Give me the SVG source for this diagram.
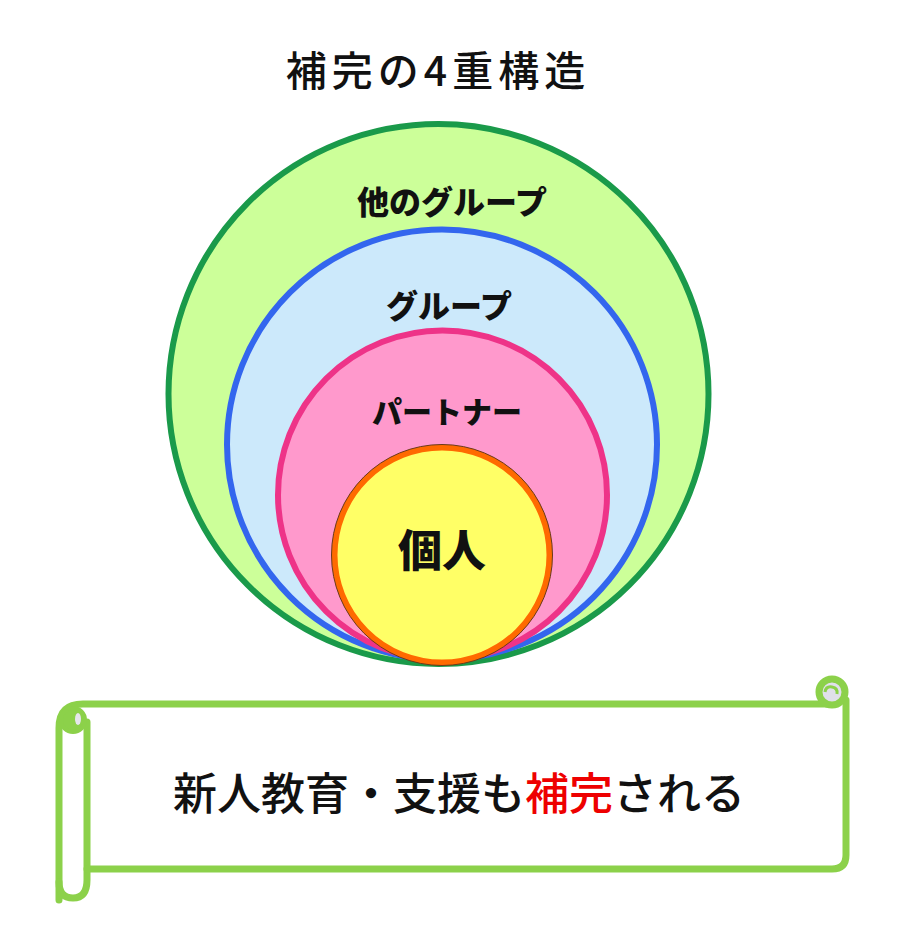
<svg xmlns="http://www.w3.org/2000/svg" width="900" height="927" viewBox="0 0 900 927">
<style>
.title{font-family:"Noto Sans CJK JP","Noto Sans",sans-serif;font-weight:500;fill:#111;text-anchor:middle}
.lbl{font-family:"Noto Sans CJK JP","Noto Sans",sans-serif;font-weight:900;fill:#111;text-anchor:middle}
.scroll{fill:none;stroke:#8cd14a;stroke-width:7;stroke-linecap:round;stroke-linejoin:round}
</style>
<rect width="900" height="927" fill="#ffffff"/>
<text class="title" x="438" y="86" font-size="41" letter-spacing="5">補完の4重構造</text>
<g id="group-other">
<circle cx="438.5" cy="394" r="270" fill="#ccff99" stroke="#1a9a4a" stroke-width="6"/>
<text class="lbl" x="452" y="214" font-size="32">他のグループ</text>
</g>
<g id="group">
<circle cx="442" cy="444.5" r="215" fill="#cce9fb" stroke="#3366ee" stroke-width="6"/>
<text class="lbl" x="449" y="318" font-size="32">グループ</text>
</g>
<g id="partner">
<circle cx="442.5" cy="495" r="164.5" fill="#ff99cc" stroke="#ee3388" stroke-width="6"/>
<text class="lbl" x="447" y="423" font-size="30">パートナー</text>
</g>
<g id="individual">
<circle cx="442" cy="555" r="107.5" fill="#ffff66" stroke="#ff6a00" stroke-width="6"/>
<circle cx="442" cy="555" r="110.5" fill="none" stroke="#6a3a1a" stroke-width="1"/>
<text class="lbl" x="442" y="567" font-size="44">個人</text>
</g>
<g id="scroll">
<path class="scroll" d="M59,900 L59,728 Q59,704 83,704 L834,704"/>
<path class="scroll" d="M87,722 L87,880 Q87,898 73,898 Q59,898 59,882"/>
<circle cx="73" cy="720" r="12" fill="#8cd14a" stroke="#8cd14a" stroke-width="4"/>
<ellipse cx="78" cy="719" rx="3" ry="6" fill="#e6e6ec"/>
<path class="scroll" d="M87,869 L832,869 Q846,869 846,855 L846,700"/>
<circle cx="832" cy="692" r="13" fill="#e0e0ea" stroke="#8cd14a" stroke-width="7"/>
<path d="M825,692 Q826,686 832,687 Q838,688 837,694" fill="none" stroke="#8cd14a" stroke-width="3"/>
<text x="459" y="810" font-size="44" font-family="'Noto Sans CJK JP','Noto Sans',sans-serif" font-weight="500" fill="#111" text-anchor="middle">新人教育・支援も<tspan fill="#ee0000">補完</tspan>される</text>
</g>
</svg>
